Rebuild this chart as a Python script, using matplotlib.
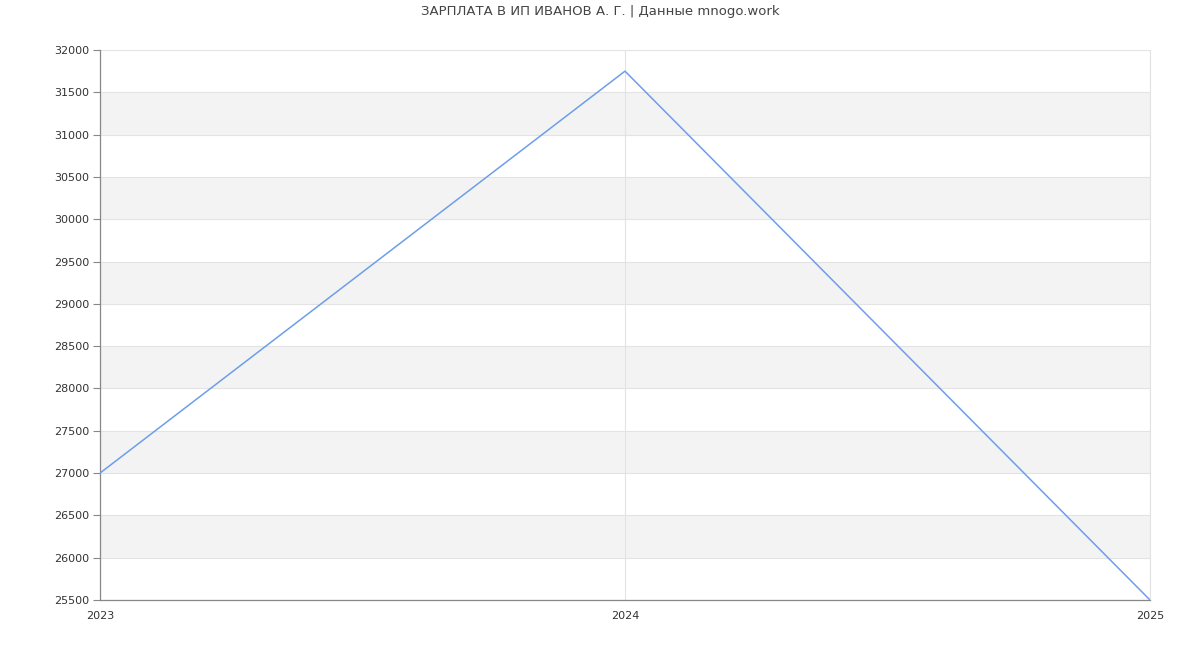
import matplotlib
matplotlib.use("Agg")
import matplotlib.pyplot as plt

# ----------------------------
# Data
# ----------------------------
YEARS = ["2023", "2024", "2025"]
SALARY = [27000, 31750, 25500]
Y_TICKS = list(range(25500, 32001, 500))
TITLE = "ЗАРПЛАТА В ИП ИВАНОВ А. Г. | Данные mnogo.work"

fig = plt.figure(figsize=(12, 6.5), dpi=100)
ax = fig.add_axes([100 / 1200, 50 / 650, 1050 / 1200, 550 / 650])

x = list(range(len(YEARS)))

# alternating bands
for lo, hi in zip(Y_TICKS[:-1], Y_TICKS[1:]):
    if (lo // 500) % 2 == 0:
        ax.axhspan(lo, hi, color="#f3f3f3", zorder=0, linewidth=0)

ax.plot(x, SALARY, color="#6d9eeb", linewidth=1.1, zorder=3)

ax.set_xlim(0, len(YEARS) - 1)
ax.set_ylim(Y_TICKS[0], Y_TICKS[-1])
ax.set_yticks(Y_TICKS)
ax.set_xticks(x)
ax.set_xticklabels(YEARS)

ax.grid(True, color="#e3e3e3", linewidth=0.8, zorder=1)
ax.set_axisbelow(True)

ax.spines["top"].set_visible(False)
ax.spines["right"].set_color("#e3e3e3")
ax.spines["right"].set_linewidth(0.8)
for side in ["left", "bottom"]:
    ax.spines[side].set_color("#888888")
    ax.spines[side].set_linewidth(0.9)

ax.tick_params(axis="y", length=5, color="#888888", labelsize=8, labelcolor="#333333", pad=3)
ax.tick_params(axis="x", length=0, labelsize=8, labelcolor="#333333", pad=8)

fig.text(0.5, 1 - 12 / 650, TITLE, ha="center", va="center", fontsize=9.5, color="#444444")

fig.savefig("out.png", dpi=100)
plt.close(fig)
